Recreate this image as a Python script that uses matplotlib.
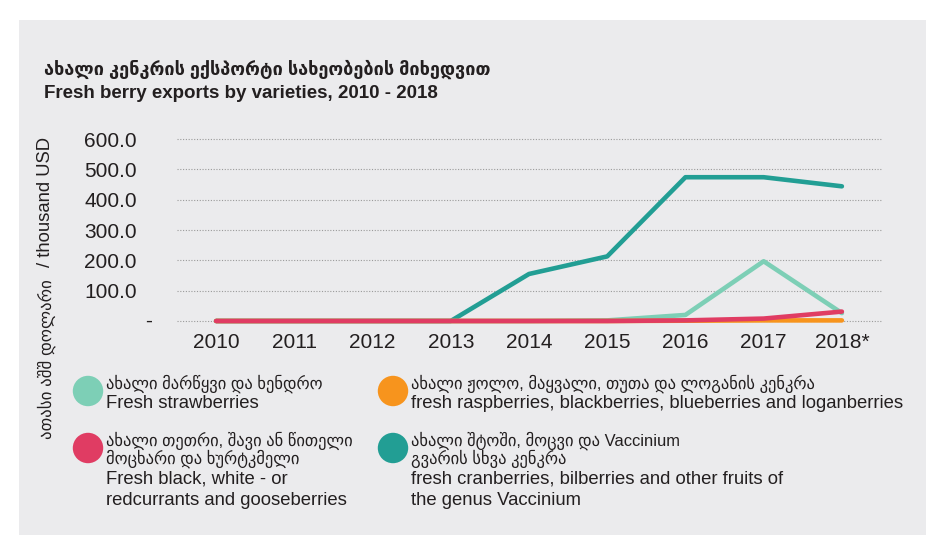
import matplotlib.pyplot as plt
from matplotlib.patches import Rectangle

years = ['2010', '2011', '2012', '2013', '2014', '2015', '2016', '2017', '2018*']
strawberries = [0, 0, 0, 0, 0, 2, 20, 197, 26]
raspberries = [0, 0, 0, 0, 0, 0, 1, 2, 2]
currants = [0, 0, 0, 0, 0, 0, 2, 8, 31]
vaccinium = [0, 0, 0, 0, 155, 213, 474, 474, 444]

y_ticks = [0, 100, 200, 300, 400, 500, 600]
y_tick_labels = ['', '100.0', '200.0', '300.0', '400.0', '500.0', '600.0']

title_geo = 'ახალი კენკრის ექსპორტი სახეობების მიხედვით'
title_eng = 'Fresh berry exports by varieties, 2010 - 2018'
ylabel_geo = 'ათასი აშშ დოლარი'
ylabel_eng = '/ thousand USD'

geo_labels = ['ახალი მარწყვი და ხენდრო',
              'ახალი ჟოლო, მაყვალი, თუთა და ლოგანის კენკრა',
              'ახალი თეთრი, შავი ან წითელი\nმოცხარი და ხურტკმელი',
              'ახალი შტოში, მოცვი და Vaccinium\nგვარის სხვა კენკრა']
eng_labels = ['Fresh strawberries',
              'fresh raspberries, blackberries, blueberries and loganberries',
              'Fresh black, white - or\nredcurrants and gooseberries',
              'fresh cranberries, bilberries and other fruits of\nthe genus Vaccinium']

GREEN = '#7DCFB6'
ORANGE = '#F7941D'
RED = '#E03C63'
TEAL = '#229E94'
TXT = '#231F20'
BG = '#EBEBED'

plt.rcParams['font.family'] = ['Liberation Sans', 'DejaVu Sans']

W, H = 943, 551
fig = plt.figure(figsize=(W / 100, H / 100), dpi=100)
fig.patch.set_facecolor('white')


def fx(x):
    return x / W


def fy(y):
    return 1 - y / H


# grey panel
bg = fig.add_axes([0, 0, 1, 1], zorder=0)
bg.set_xlim(0, W)
bg.set_ylim(H, 0)
bg.axis('off')
bg.add_patch(Rectangle((19, 20), 907, 515, facecolor=BG, edgecolor='none'))

ax = fig.add_axes([fx(177), fy(321), 704 / W, 182 / H], zorder=1)
ax.set_facecolor('none')

x = range(len(years))
ax.plot(x, vaccinium, color=TEAL, lw=3.3, clip_on=False, solid_capstyle='round', zorder=3)
ax.plot(x, strawberries, color=GREEN, lw=3.3, clip_on=False, solid_capstyle='round', zorder=3)
ax.plot(x, raspberries, color=ORANGE, lw=3.3, clip_on=False, solid_capstyle='round', zorder=3)
ax.plot(x, currants, color=RED, lw=3.3, clip_on=False, solid_capstyle='round', zorder=4)

ax.set_xlim(-0.5, len(years) - 0.5)
ax.set_ylim(0, 600)
ax.set_yticks(y_ticks)
ax.set_yticklabels(y_tick_labels)
ax.set_xticks(list(x))
ax.set_xticklabels(years)
ax.tick_params(axis='both', length=0, labelsize=15, labelcolor=TXT)
ax.tick_params(axis='y', pad=29)
ax.tick_params(axis='x', pad=9)
for s in ax.spines.values():
    s.set_visible(False)
for v in y_ticks:
    ax.axhline(v, color='#9A9A9A', lw=0.8, ls=(0, (1, 1.5)), zorder=1, clip_on=False)
# zero shown as a dash
ax.annotate('-', xy=(0, 0), xycoords=('axes fraction', 'data'), xytext=(-28, 0),
            textcoords='offset pixels', ha='center', va='center', fontsize=15, color=TXT)

# titles
fig.text(fx(44), fy(69), title_geo, fontsize=13.1, fontweight='bold', color=TXT, va='center')
fig.text(fx(44), fy(94), title_eng, fontsize=13.5, fontweight='bold', color=TXT, va='center')

# y label
fig.text(fx(45), fy(137), ylabel_eng, rotation=90, fontsize=13.3, color=TXT, ha='center', va='top')
fig.text(fx(47), fy(279), ylabel_geo, rotation=90, fontsize=12.2, color=TXT, ha='center', va='top')

# legend
colors = [GREEN, ORANGE, RED, TEAL]
col_x = [88, 393]
row_y = [384, 441]
for i, (geo, eng, c) in enumerate(zip(geo_labels, eng_labels, colors)):
    cx = col_x[i % 2]
    y0 = row_y[i // 2]
    bg.scatter([cx], [y0 + 7], s=480, color=c, edgecolors='none')
    tx = cx + 18
    y = y0
    for line in geo.split('\n'):
        fig.text(fx(tx), fy(y), line, fontsize=11.9, color=TXT, va='center')
        y += 18
    y += 2
    for line in eng.split('\n'):
        fig.text(fx(tx), fy(y), line, fontsize=13.3, color=TXT, va='center')
        y += 21.5

fig.savefig('out.png', dpi=100, facecolor='white')
